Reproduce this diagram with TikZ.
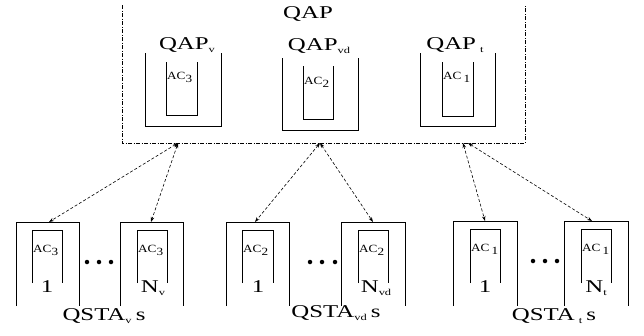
\documentclass[tikz,border=0pt]{standalone}
\usepackage{fontspec}
\setmainfont{Liberation Serif}
\usetikzlibrary{arrows.meta}
\newcommand{\wideT}[1]{\scalebox{1.38}[1.0]{#1}}
\newcommand{\wideS}[1]{\scalebox{1.2}[1.0]{#1}}
\newcommand{\sbv}[1]{\raisebox{-3.5pt}{\fontsize{9}{9}\selectfont #1}}
\begin{document}
\begin{tikzpicture}[x=1pt,y=-1pt,
  cupline/.style={line width=1pt,line join=miter},
  apbox/.style={line width=0.6pt,dash pattern=on 4pt off 1.5pt on 1pt off 1.5pt},
  link/.style={line width=0.6pt,dash pattern=on 3pt off 2pt,{Stealth[length=5pt,width=3.5pt]}-{Stealth[length=5pt,width=3.5pt]}},
  big/.style={inner sep=0pt,font=\fontsize{18}{18}\selectfont,anchor=base},
  small/.style={inner sep=0pt,font=\fontsize{11}{11}\selectfont,anchor=base west},
  dot/.style={circle,fill=black,inner sep=0pt,minimum size=4.5pt}]
\useasboundingbox (0,0) rectangle (644,335);
% QAP box (dash-dot)
\draw[apbox] (122,5) -- (122,143) -- (525,143) -- (525,5);
\node[big] (qap) at (308,18) {\wideT{QAP}};
\newcommand{\upcup}[4]{% x1 x2 ytop ybottom
  \draw[cupline] (#1,#3) -- (#1,#4) -- (#2,#4) -- (#2,#3);}
\newcommand{\dncup}[4]{% x1 x2 ytop ybottom
  \draw[cupline] (#1,#4) -- (#1,#3) -- (#2,#3) -- (#2,#4);}
% AP cups (open at top)
\upcup{145}{221}{53}{126}
\upcup{166}{197}{62}{115}
\upcup{282}{358}{58}{130}
\upcup{303}{333}{66}{119}
\upcup{420}{495}{53}{126}
\upcup{442}{473}{62}{116}
\node[big] (apv) at (187,49) {\wideT{QAP\sbv{v}}};
\node[big] (apvd) at (319,50) {\wideT{QAP\sbv{vd}}};
\node[big] (apt) at (455,49) {\wideT{QAP\,\sbv{t}}};
\node[small] (acv) at (167,79) {\wideS{AC\raisebox{-3.5pt}{3}}};
\node[small] (acvd) at (304,84) {\wideS{AC\raisebox{-3.5pt}{2}}};
\node[small] (act) at (443,79) {\wideS{AC\,\raisebox{-3.5pt}{1}}};
% STA cups (open at bottom)
\dncup{16}{79}{222}{306}
\dncup{32}{62}{230}{283}
\dncup{120}{183}{222}{306}
\dncup{137}{167}{230}{283}
\dncup{226}{289}{222}{306}
\dncup{242}{273}{230}{283}
\dncup{341}{405}{222}{306}
\dncup{358}{388}{230}{283}
\dncup{453}{517}{221}{306}
\dncup{470}{500}{229}{283}
\dncup{564}{628}{221}{306}
\dncup{581}{611}{229}{283}
\node[small] (a1) at (33,252) {\wideS{AC\raisebox{-3.5pt}{3}}};
\node[small] (a2) at (138,252) {\wideS{AC\raisebox{-3.5pt}{3}}};
\node[small] (a3) at (243,252) {\wideS{AC\raisebox{-3.5pt}{2}}};
\node[small] (a4) at (359,252) {\wideS{AC\raisebox{-3.5pt}{2}}};
\node[small] (a5) at (471,251) {\wideS{AC\,\raisebox{-3.5pt}{1}}};
\node[small] (a6) at (582,251) {\wideS{AC\,\raisebox{-3.5pt}{1}}};
\node[big] (n1) at (47,292) {\wideT{1}};
\node[big] (n2) at (153,292) {\wideT{N\sbv{v}}};
\node[big] (n3) at (258,292) {\wideT{1}};
\node[big] (n4) at (376,292) {\wideT{N\sbv{vd}}};
\node[big] (n5) at (485,292) {\wideT{1}};
\node[big] (n6) at (596,292) {\wideT{N\sbv{t}}};
\node[big] (s1) at (104,320) {\wideT{QSTA\sbv{v}\,s}};
\node[big] (s2) at (336,317) {\wideT{QSTA\sbv{vd}\,s}};
\node[big] (s3) at (554,320) {\wideT{QSTA\,\sbv{t}\,s}};
% dots
\foreach \x [count=\i] in {87,99,111}{\node[dot] (d1\i) at (\x,262) {};}
\foreach \x [count=\i] in {310,322,335}{\node[dot] (d2\i) at (\x,262) {};}
\foreach \x [count=\i] in {533,545,557}{\node[dot] (d3\i) at (\x,261) {};}
% connectors
\coordinate (p1) at (178,143);
\coordinate (p2) at (320,143);
\coordinate (p3a) at (463,143);
\coordinate (p3b) at (468,143);
\coordinate (t1) at (49,222);
\coordinate (t2) at (151,222);
\coordinate (t3) at (255,222);
\coordinate (t4) at (373,222);
\coordinate (t5) at (485,221);
\coordinate (t6) at (592,221);
\draw[link] (p1) -- (t1);
\draw[link] (p1) -- (t2);
\draw[link] (p2) -- (t3);
\draw[link] (p2) -- (t4);
\draw[link] (p3a) -- (t5);
\draw[link] (p3b) -- (t6);
\end{tikzpicture}
\end{document}
